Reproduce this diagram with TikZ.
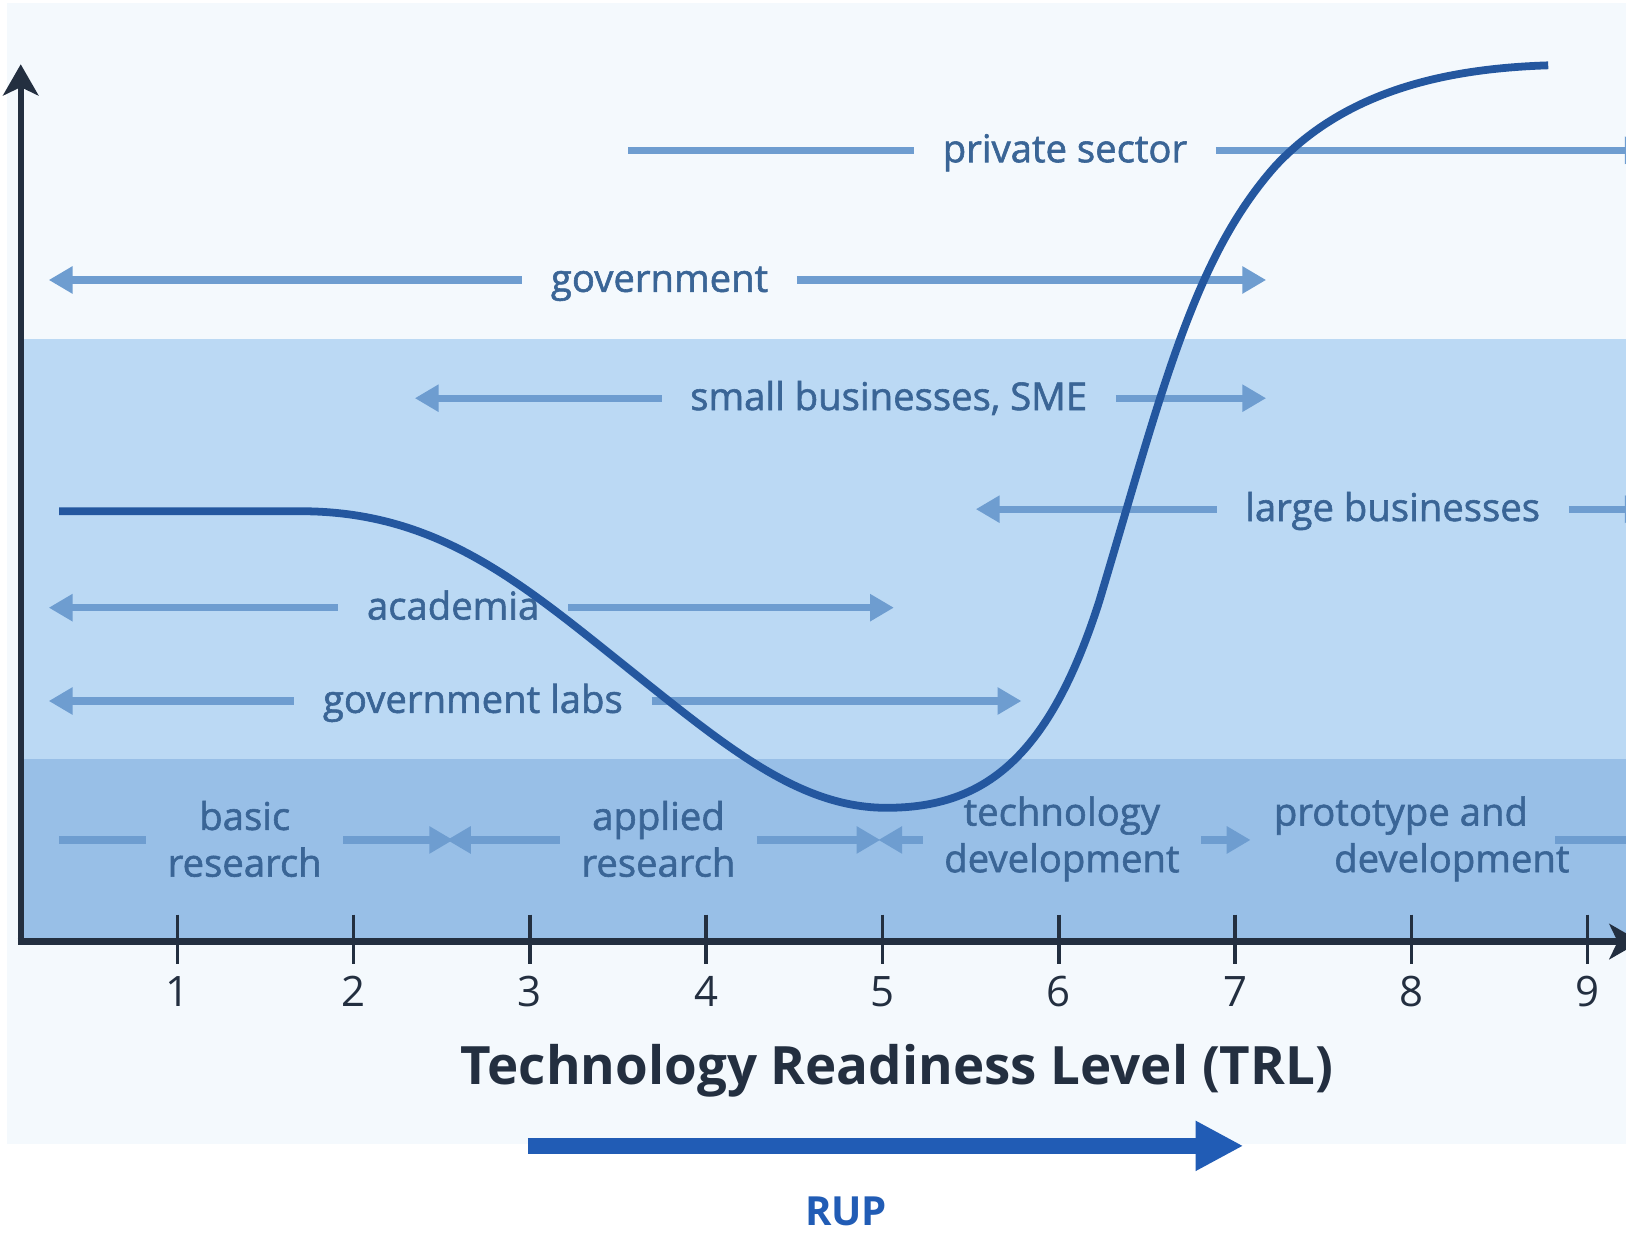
\documentclass[tikz,border=0pt]{standalone}
\usepackage{fontspec}
\setmainfont{Open Sans}
\newfontfamily\lblfont{Open Sans}[FakeBold=1.5]
\usepackage{tikz}
\usetikzlibrary{arrows.meta,positioning}
\definecolor{pale}{HTML}{F4F9FD}
\definecolor{bandmid}{HTML}{BBD9F4}
\definecolor{banddark}{HTML}{98BFE7}
\definecolor{flowblue}{HTML}{6E9DD0}
\definecolor{txtblue}{HTML}{3A6596}
\definecolor{curveblue}{HTML}{24579F}
\definecolor{axisdark}{HTML}{232F40}
\definecolor{rupblue}{HTML}{215CB5}

\begin{document}
\begin{tikzpicture} [
        x = 0.01cm, y = -0.01cm,
        flow/.style = { draw = flowblue, line width = 0.07cm },
        tipr/.style = { -{Triangle[length=0.23cm,width=0.25cm]} },
        tipl/.style = { {Triangle[length=0.23cm,width=0.25cm]}- },
        lbl/.style = { text = txtblue, font = \lblfont\fontsize{10.5}{12.8}\selectfont,
                       inner xsep = 0.27cm, inner ysep = 0, text height = 0.85em, text depth = 0.2em },
        phase/.style = { text = txtblue, font = \lblfont\fontsize{10.5}{12.8}\selectfont,
                       align = center, inner xsep = 0.2cm, inner ysep = 0 },
        axis/.style = { draw = axisdark, line width = 0.06cm },
        tick/.style = { draw = axisdark, line width = 0.035cm },
        num/.style = { text = axisdark, font = \fontsize{11.5}{13}\selectfont, inner sep = 0 }
        ]

        % backgrounds
        \useasboundingbox (0,0) rectangle (1568,1191);
        \fill[white] (0,0) rectangle (1568,1191);
        \fill[pale] (7,3) rectangle (1568,1103);
        \fill[bandmid] (20,327) rectangle (1568,732);
        \fill[banddark] (20,732) rectangle (1568,908);

        % axes
        \coordinate (o) at (20,908);
        \coordinate (ytop) at (20,62);
        \coordinate (xend) at (1582,908);
        \draw[axis, -{Stealth[length=0.3cm,width=0.34cm,inset=0.08cm]}] (o) -- (ytop);
        \draw[axis, -{Stealth[length=0.3cm,width=0.34cm,inset=0.08cm]}] ([xshift=-0.03cm]o) -- (xend);
        \foreach \i in {1,...,9} {
            \draw[tick] ({171+170*(\i-1)},882) -- ({171+170*(\i-1)},930);
            \node[num] (n\i) at ({171+170*(\i-1)},956) {\i};
        }
        \node[text = axisdark, font = \fontsize{14.5}{16}\bfseries] (trl) at (865,1033) {Technology Readiness Level (TRL)};

        % RUP arrow
        \coordinate (rupa) at (509,1105);
        \coordinate (rupb) at (1199,1105);
        \draw[draw = rupblue, line width = 0.15cm, -{Triangle[length=0.46cm,width=0.45cm]}] (rupa) -- (rupb);
        \node[text = rupblue, font = \fontsize{11}{12}\bfseries] (rup) at (816,1168) {RUP};

        % actors
        \node[lbl] (priv) at (1027,145) {private sector};
        \coordinate (priv-l) at (606,145);
        \coordinate (priv-r) at (1590,145);
        \draw[flow] (priv-l) -- (priv.west);
        \draw[flow, tipr] (priv.east) -- (priv-r);

        \node[lbl] (gov) at (636,270) {government};
        \coordinate (gov-l) at (47,270);
        \coordinate (gov-r) at (1221,270);
        \draw[flow, tipl] (gov-l) -- (gov.west);
        \draw[flow, tipr] (gov.east) -- (gov-r);

        \node[lbl] (sme) at (857,384) {small businesses, SME};
        \coordinate (sme-l) at (400,384);
        \coordinate (sme-r) at (1221,384);
        \draw[flow, tipl] (sme-l) -- (sme.west);
        \draw[flow, tipr] (sme.east) -- (sme-r);

        \node[lbl] (large) at (1343,491) {large businesses};
        \coordinate (large-l) at (941,491);
        \coordinate (large-r) at (1590,491);
        \draw[flow, tipl] (large-l) -- (large.west);
        \draw[flow, tipr] (large.east) -- (large-r);

        \node[lbl] (acad) at (437,586) {academia};
        \coordinate (acad-l) at (47,586);
        \coordinate (acad-r) at (862,586);
        \draw[flow, tipl] (acad-l) -- (acad.west);
        \draw[flow, tipr] (acad.east) -- (acad-r);

        \node[lbl] (govlab) at (456,676) {government labs};
        \coordinate (govlab-l) at (47,676);
        \coordinate (govlab-r) at (985,676);
        \draw[flow, tipl] (govlab-l) -- (govlab.west);
        \draw[flow, tipr] (govlab.east) -- (govlab-r);

        % phases
        \node[phase] (basic) at (236,809) {basic\\research};
        \node[phase] (applied) at (635,809) {applied\\research};
        \node[phase] (techdev) at (1024,809) {technology\\development};
        \node[phase] (proto) at (1351,809) {prototype and\\\hspace*{0.98cm}development};
        \coordinate (ph0) at (57,810);
        \coordinate (ph1) at (437,810);
        \coordinate (ph1b) at (431,810);
        \coordinate (ph2) at (849,810);
        \coordinate (ph2b) at (847,810);
        \coordinate (ph3) at (1206,810);
        \coordinate (ph4a) at (1500,810);
        \coordinate (ph4) at (1592,810);
        \draw[flow] (ph0) -- (basic.west |- ph0);
        \draw[flow, tipr] (basic.east |- ph0) -- (ph1);
        \draw[flow, tipl] (ph1b) -- (applied.west |- ph0);
        \draw[flow, tipr] (applied.east |- ph0) -- (ph2);
        \draw[flow, tipl] (ph2b) -- (techdev.west |- ph0);
        \draw[flow, tipr] (techdev.east |- ph0) -- (ph3);
        \draw[flow, tipr] (ph4a) -- (ph4);

        % readiness curve
        \draw[draw = curveblue, line width = 0.075cm]
            (57,493) -- (290,493)
            .. controls (420,493) and (500,560) .. (600,640)
            .. controls (700,720) and (770,779) .. (855,779)
            .. controls (950,779) and (1012,730) .. (1060,580)
            .. controls (1120,380) and (1150,250) .. (1230,160)
            .. controls (1300,85) and (1400,66) .. (1493,63);
    \end{tikzpicture}
\end{document}
